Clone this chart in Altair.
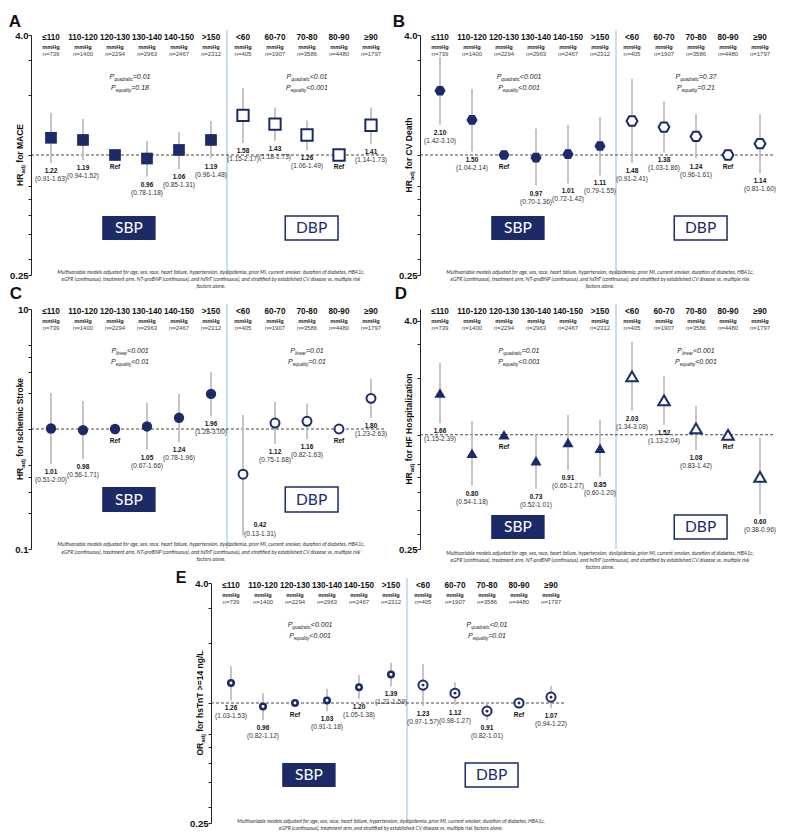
import altair as alt
import pandas as pd

# ---------------- data ----------------
CATS = ["≤110", "110-120", "120-130", "130-140", "140-150", ">150",
        "<60", "60-70", "70-80", "80-90", "≥90"]
N_OBS = [739, 1400, 2294, 2963, 2467, 2312, 405, 1907, 3586, 4480, 1797]
GROUP = ["SBP"] * 6 + ["DBP"] * 5

MACE_EST = [1.22, 1.19, 1.00, 0.96, 1.06, 1.19, 1.58, 1.43, 1.26, 1.00, 1.41]
MACE_LO = [0.91, 0.94, None, 0.78, 0.85, 0.96, 1.15, 1.18, 1.06, None, 1.14]
MACE_HI = [1.63, 1.52, None, 1.18, 1.31, 1.48, 2.17, 1.73, 1.49, None, 1.73]

CVD_EST = [2.10, 1.50, 1.00, 0.97, 1.01, 1.11, 1.48, 1.38, 1.24, 1.00, 1.14]
CVD_LO = [1.42, 1.04, None, 0.70, 0.72, 0.79, 0.91, 1.03, 0.96, None, 0.81]
CVD_HI = [3.10, 2.14, None, 1.36, 1.42, 1.55, 2.41, 1.86, 1.61, None, 1.60]

STK_EST = [1.01, 0.98, 1.00, 1.05, 1.24, 1.96, 0.42, 1.12, 1.16, 1.00, 1.80]
STK_LO = [0.51, 0.56, None, 0.67, 0.78, 1.28, 0.13, 0.75, 0.82, None, 1.23]
STK_HI = [2.00, 1.71, None, 1.66, 1.96, 3.00, 1.31, 1.68, 1.63, None, 2.63]

HF_EST = [1.66, 0.80, 1.00, 0.73, 0.91, 0.85, 2.03, 1.52, 1.08, 1.00, 0.60]
HF_LO = [1.15, 0.54, None, 0.52, 0.65, 0.60, 1.34, 1.13, 0.83, None, 0.38]
HF_HI = [2.39, 1.18, None, 1.01, 1.27, 1.20, 3.08, 2.04, 1.42, None, 0.96]

TNT_EST = [1.26, 0.96, 1.00, 1.03, 1.20, 1.39, 1.23, 1.12, 0.91, 1.00, 1.07]
TNT_LO = [1.03, 0.82, None, 0.91, 1.05, 1.21, 0.97, 0.98, 0.82, None, 0.94]
TNT_HI = [1.53, 1.12, None, 1.18, 1.38, 1.59, 1.57, 1.27, 1.01, None, 1.22]

FOOT_4 = [
    "Multivariable models adjusted for age, sex, race, heart failure, hypertension, dyslipidemia, prior MI, current smoker, duration of diabetes, HBA1c,",
    "eGFR (continuous),  treatment arm, NT-proBNP (continuous), and hsTnT (continuous), and stratified by established CV disease vs. multiple risk",
    "factors alone.",
]
FOOT_E = [
    "Multivariable models adjusted for age, sex, race, heart failure, hypertension, dyslipidemia, prior MI, current smoker, duration of diabetes, HBA1c,",
    "eGFR (continuous),  treatment arm, and stratified by established CV disease vs. multiple risk factors alone.",
]

TICKS_16 = [0.25, 0.3, 0.4, 0.5, 0.6, 0.7, 1, 2, 3, 4]
TICKS_100 = [0.1, 0.2, 0.3, 0.4, 0.5, 1, 2, 3, 4, 5, 10]

# ---------------- style ----------------
NAVY = "#1c2a68"
BAR = "#b8b8b8"
DIV = "#a9c9e6"
FONT = "Liberation Sans"
FONT2 = "Lato"

W = 353
H = 240
PXU = 32.0
X0 = -20.0 / PXU
X1 = X0 + W / PXU

HEX = "M-1,0L-0.5,-0.866L0.5,-0.866L1,0L0.5,0.866L-0.5,0.866Z"
TRI = "M0,-0.85L1,0.85L-1,0.85Z"

REG = {" ": 278, "(": 333, ")": 333, ",": 278, "-": 333, ".": 278, "/": 278,
       "<": 584, "=": 584, ">": 584, "P": 667,
       "a": 556, "b": 556, "c": 500, "d": 556, "e": 556, "f": 278, "g": 556,
       "h": 556, "i": 222, "j": 222, "k": 500, "l": 222, "m": 833, "n": 556,
       "o": 556, "p": 556, "q": 556, "r": 333, "s": 500, "t": 278, "u": 556,
       "v": 500, "w": 722, "x": 500, "y": 500, "z": 500}
BLD = {" ": 278, "-": 333, ".": 278, "/": 278, "<": 584, "=": 584, ">": 584,
       "A": 722, "B": 722, "C": 722, "D": 722, "E": 667, "F": 611, "H": 722,
       "I": 278, "L": 611, "M": 833, "O": 778, "P": 667, "R": 722, "S": 667,
       "T": 611, "V": 667,
       "a": 556, "b": 611, "c": 556, "d": 611, "e": 556, "f": 333, "g": 611,
       "h": 611, "i": 278, "j": 278, "k": 556, "l": 278, "m": 889, "n": 611,
       "o": 611, "p": 611, "q": 611, "r": 389, "s": 556, "t": 333, "u": 611,
       "v": 556, "y": 556, "z": 500}


def tw(s, size, bold=False):
    m = BLD if bold else REG
    return sum(m.get(c, 556) for c in s) * size / 1000.0


PANELS = {
    "A": dict(est=MACE_EST, lo=MACE_LO, hi=MACE_HI, dom=[0.25, 4.0], ticks=TICKS_16,
              labs=(4, "4.0", 0.25, "0.25"), shape="square", size=(137, 128),
              title=("HR", "adj", "for MACE"),
              pl=[("quadratic", "=0.01"), ("equality", "=0.18")],
              pr=[("quadratic", "<0.01"), ("equality", "<0.001")],
              letter=(-16, -8, 17), box=(181, 205), foot=(FOOT_4, [-3, 4, 11]), shift={},
              xoff=0),
    "B": dict(est=CVD_EST, lo=CVD_LO, hi=CVD_HI, dom=[0.25, 4.0], ticks=TICKS_16,
              labs=(4, "4.0", 0.25, "0.25"), shape=HEX, size=(125, 118),
              title=("HR", "adj", "for CV Death"),
              pl=[("quadratic", "<0.001"), ("equality", "<0.001")],
              pr=[("quadratic", "=0.37"), ("equality", "=0.21")],
              letter=(-21, -8, 17), box=(181, 205), foot=(FOOT_4, [-3, 4, 11]), shift={},
              xoff=0),
    "C": dict(est=STK_EST, lo=STK_LO, hi=STK_HI, dom=[0.1, 10.0], ticks=TICKS_100,
              labs=(10, "10", 0.1, "0.1"), shape="circle", size=(107, 80),
              title=("HR", "adj", "for Ischemic Stroke"),
              pl=[("linear", "<0.001"), ("equality", "<0.01")],
              pr=[("linear", "=0.01"), ("equality", "=0.01")],
              letter=(-15, -10, 17), box=(178, 203), foot=(FOOT_4, [-5, 3, 10]),
              shift={6: (17, -10, -1)}, xoff=0),
    "D": dict(est=HF_EST, lo=HF_LO, hi=HF_HI, dom=[0.25, 4.6], ticks=TICKS_16,
              labs=(4, "4.0", 0.25, "0.25"), shape=TRI, size=(125, 132),
              title=("HR", "adj", "for HF Hospitalization"),
              pl=[("quadratic", "=0.01"), ("equality", "<0.001")],
              pr=[("linear", "<0.001"), ("equality", "<0.001")],
              letter=(-19, -10, 17), box=(206, 230), foot=(FOOT_4, [4, 11, 18]), shift={},
              xoff=0),
    "E": dict(est=TNT_EST, lo=TNT_LO, hi=TNT_HI, dom=[0.25, 4.0], ticks=TICKS_16,
              labs=(4, "4.0", 0.25, "0.25"), shape="circle", size=(64, 83),
              title=("OR", "adj", "for hsTnT >=14 ng/L"),
              pl=[("quadratic", "<0.001"), ("equality", "<0.001")],
              pr=[("quadratic", "<0.01"), ("equality", "=0.01")],
              letter=(-30, 0, 16), box=(180, 204), foot=(FOOT_E, [-2, 5]), shift={},
              xoff=180),
}


def panel(key):
    p = PANELS[key]
    lo_d, hi_d = p["dom"]
    off = p["xoff"]

    def yv(py):  # pixel offset from plot top -> value on the log scale
        return hi_d * (lo_d / hi_d) ** (py / H)

    def xp(px):  # pixel offset from the y axis -> value on the x scale
        return X0 + px / PXU

    a, la, b, lb = p["labs"]
    ax_kw = dict(values=p["ticks"],
                 labelExpr=f"datum.value == {a} ? '{la}' : (datum.value == {b} ? '{lb}' : '')",
                 title=None, grid=False, tickSize=3, tickColor="#222", domainColor="#222",
                 labelFont=FONT, labelFontSize=9.5, labelFontWeight="bold", labelColor="#111",
                 labelPadding=0, labelOverlap=False, labelFlush=False)
    if off:
        ax_kw["offset"] = -off
        xs = alt.Scale(domain=[X0, X1], range=[off, off + W], nice=False, zero=False)
    else:
        xs = alt.Scale(domain=[X0, X1], nice=False, zero=False)
    X = alt.X("x:Q", scale=xs, axis=None)
    Y = alt.Y("y:Q", scale=alt.Scale(type="log", domain=[lo_d, hi_d], nice=False),
              axis=alt.Axis(**ax_kw))

    layers = []
    # divider between SBP and DBP
    div = pd.DataFrame({"x": [5.5], "y": [yv(-5)], "y2": [yv(H)]})
    layers.append(alt.Chart(div).mark_rule(color=DIV, strokeWidth=1.2)
                  .encode(x=X, y=Y, y2=alt.Y2("y2")))
    # SBP / DBP boxes
    b0, b1 = p["box"]
    boxes = pd.DataFrame({"x": [1.6, 7.32], "x2": [3.27, 8.97], "y": [yv(b0)] * 2,
                          "y2": [yv(b1)] * 2, "g": ["SBP", "DBP"]})
    layers.append(alt.Chart(boxes).transform_filter(alt.datum.g == "SBP")
                  .mark_rect(color=NAVY)
                  .encode(x=X, x2=alt.X2("x2"), y=Y, y2=alt.Y2("y2")))
    layers.append(alt.Chart(boxes).transform_filter(alt.datum.g == "DBP")
                  .mark_rect(fill="white", stroke=NAVY, strokeWidth=1.5)
                  .encode(x=X, x2=alt.X2("x2"), y=Y, y2=alt.Y2("y2")))
    # reference line at 1
    ref = pd.DataFrame({"x": [X0], "x2": [X1], "y": [1.0]})
    layers.append(alt.Chart(ref).mark_rule(color="#333", strokeWidth=0.9, strokeDash=[3, 2])
                  .encode(x=X, x2=alt.X2("x2"), y=Y))
    # error bars
    bars = pd.DataFrame([{"x": i, "y": l, "y2": h}
                         for i, (l, h) in enumerate(zip(p["lo"], p["hi"])) if l is not None])
    layers.append(alt.Chart(bars).mark_rule(color=BAR, strokeWidth=1.6)
                  .encode(x=X, y=Y, y2=alt.Y2("y2")))
    # points
    pts = pd.DataFrame({"x": list(range(11)), "y": p["est"], "g": GROUP})
    s1, s2 = p["size"]
    layers.append(alt.Chart(pts).transform_filter(alt.datum.g == "SBP")
                  .mark_point(shape=p["shape"], filled=True, fill=NAVY, size=s1, opacity=1,
                              strokeWidth=0)
                  .encode(x=X, y=Y))
    layers.append(alt.Chart(pts).transform_filter(alt.datum.g == "DBP")
                  .mark_point(shape=p["shape"], filled=True, fill="white", stroke=NAVY,
                              strokeWidth=2, size=s2, opacity=1)
                  .encode(x=X, y=Y))
    if key == "E":
        layers.append(alt.Chart(pts).transform_filter(alt.datum.g == "SBP")
                      .mark_point(shape="circle", filled=True, fill="white", size=8, opacity=1,
                                  strokeWidth=0)
                      .encode(x=X, y=Y))
        layers.append(alt.Chart(pts).transform_filter(alt.datum.g == "DBP")
                      .mark_point(shape="circle", filled=True, fill=NAVY, size=8, opacity=1,
                                  strokeWidth=0)
                      .encode(x=X, y=Y))

    # value labels
    labs, refs = [], []
    for i in range(11):
        if p["lo"][i] is None:
            refs.append({"x": i, "y": 1.0, "t": "Ref"})
        else:
            labs.append({"x": i, "y": p["lo"][i], "t": f"{p['est'][i]:.2f}",
                         "c": f"({p['lo'][i]:.2f}-{p['hi'][i]:.2f})",
                         "o": i in p["shift"], "i": i})
    labs = pd.DataFrame(labs)
    refs = pd.DataFrame(refs)
    layers.append(alt.Chart(labs).transform_filter("!datum.o")
                  .mark_text(font=FONT, fontSize=6.5, fontWeight="bold", color="#111", dy=8)
                  .encode(x=X, y=Y, text="t:N"))
    layers.append(alt.Chart(labs).transform_filter("!datum.o")
                  .mark_text(font=FONT, fontSize=6.5, color="#333", dy=16)
                  .encode(x=X, y=Y, text="c:N"))
    for i, (dx, d1, d2) in p["shift"].items():
        layers.append(alt.Chart(labs).transform_filter(alt.datum.i == i)
                      .mark_text(font=FONT, fontSize=6.5, fontWeight="bold", color="#111",
                                 dx=dx, dy=d1)
                      .encode(x=X, y=Y, text="t:N"))
        layers.append(alt.Chart(labs).transform_filter(alt.datum.i == i)
                      .mark_text(font=FONT, fontSize=6.5, color="#333", dx=dx, dy=d2)
                      .encode(x=X, y=Y, text="c:N"))
    layers.append(alt.Chart(refs)
                  .mark_text(font=FONT, fontSize=6.5, fontWeight="bold", color="#111", dy=12)
                  .encode(x=X, y=Y, text="t:N"))

    # annotations
    ann = []
    for i in range(11):
        ann.append(dict(k="hdr", x=i, y=yv(3), t=CATS[i]))
        ann.append(dict(k="mm", x=i, y=yv(11.5), t="mmHg"))
        ann.append(dict(k="n", x=i, y=yv(18.5), t=f"n={N_OBS[i]}"))
    for cx, plist in ((2.47, p["pl"]), (8.0, p["pr"])):
        for py, (sub, rest) in zip((42, 53), plist):
            wP, ws, wr = tw("P", 7), tw(sub, 4.5), tw(rest, 7)
            x0 = cx - (wP + ws + wr) / 2 / PXU
            ann.append(dict(k="P", x=x0, y=yv(py), t="P"))
            ann.append(dict(k="Ps", x=x0 + wP / PXU, y=yv(py), t=sub))
            ann.append(dict(k="P", x=x0 + (wP + ws) / PXU, y=yv(py), t=rest))
    ann.append(dict(k="bs", x=(1.6 + 3.27) / 2, y=yv((b0 + b1) / 2), t="SBP"))
    ann.append(dict(k="bd", x=(7.32 + 8.97) / 2, y=yv((b0 + b1) / 2), t="DBP"))
    lines, offs = p["foot"]
    for ln, o in zip(lines, offs):
        ann.append(dict(k="f", x=5.0, y=yv(H + o), t=ln))
    lx, ly, lsz = p["letter"]
    ann.append(dict(k="L", x=xp(lx), y=yv(ly), t=key))
    m, s, r = p["title"]
    wm, wsb, wsp, wr = tw(m, 8.5, True), tw(s, 6, True), tw(" ", 8.5, True), tw(r, 8.5, True)
    y0 = H / 2 + (wm + wsb + wsp + wr) / 2
    ann.append(dict(k="T", x=xp(-11), y=yv(y0), t=m))
    ann.append(dict(k="Ts", x=xp(-8.5), y=yv(y0 - wm), t=s))
    ann.append(dict(k="T", x=xp(-11), y=yv(y0 - wm - wsb - wsp), t=r))
    ann = pd.DataFrame(ann)

    def tl(kind, **mk):
        return (alt.Chart(ann).transform_filter(alt.datum.k == kind)
                .mark_text(**mk).encode(x=X, y=Y, text="t:N"))

    layers += [
        tl("hdr", font=FONT, fontSize=8.2, fontWeight="bold", color="#111"),
        tl("mm", font=FONT, fontSize=5.6, fontWeight="bold", color="#222"),
        tl("n", font=FONT, fontSize=6, color="#444"),
        tl("P", font=FONT, fontSize=7, fontStyle="italic", color="#222", align="left"),
        tl("Ps", font=FONT, fontSize=4.5, fontStyle="italic", color="#222", align="left", dy=2.5),
        tl("bs", font=FONT2, fontSize=15.5, color="white"),
        tl("bd", font=FONT2, fontSize=15.5, color=NAVY),
        tl("f", font=FONT2, fontSize=5.2, fontStyle="italic", color="#333"),
        tl("L", font=FONT, fontSize=lsz, fontWeight="bold", color="#111", baseline="alphabetic"),
        tl("T", font=FONT, fontSize=8.5, fontWeight="bold", color="#111", angle=270,
           align="left", baseline="middle"),
        tl("Ts", font=FONT, fontSize=6, fontWeight="bold", color="#111", angle=270,
           align="left", baseline="middle"),
    ]
    return alt.layer(*layers).properties(width=W, height=H)


chart = alt.concat(
    panel("A"), panel("B"), panel("C"), panel("D"), panel("E"),
    columns=2, spacing={"row": 34, "column": 36}, bounds="flush",
).properties(padding={"left": 0, "top": 4, "right": 0, "bottom": 0}).configure_view(stroke=None)

chart.save("out.html", embed_options={"renderer": "svg", "actions": False})
